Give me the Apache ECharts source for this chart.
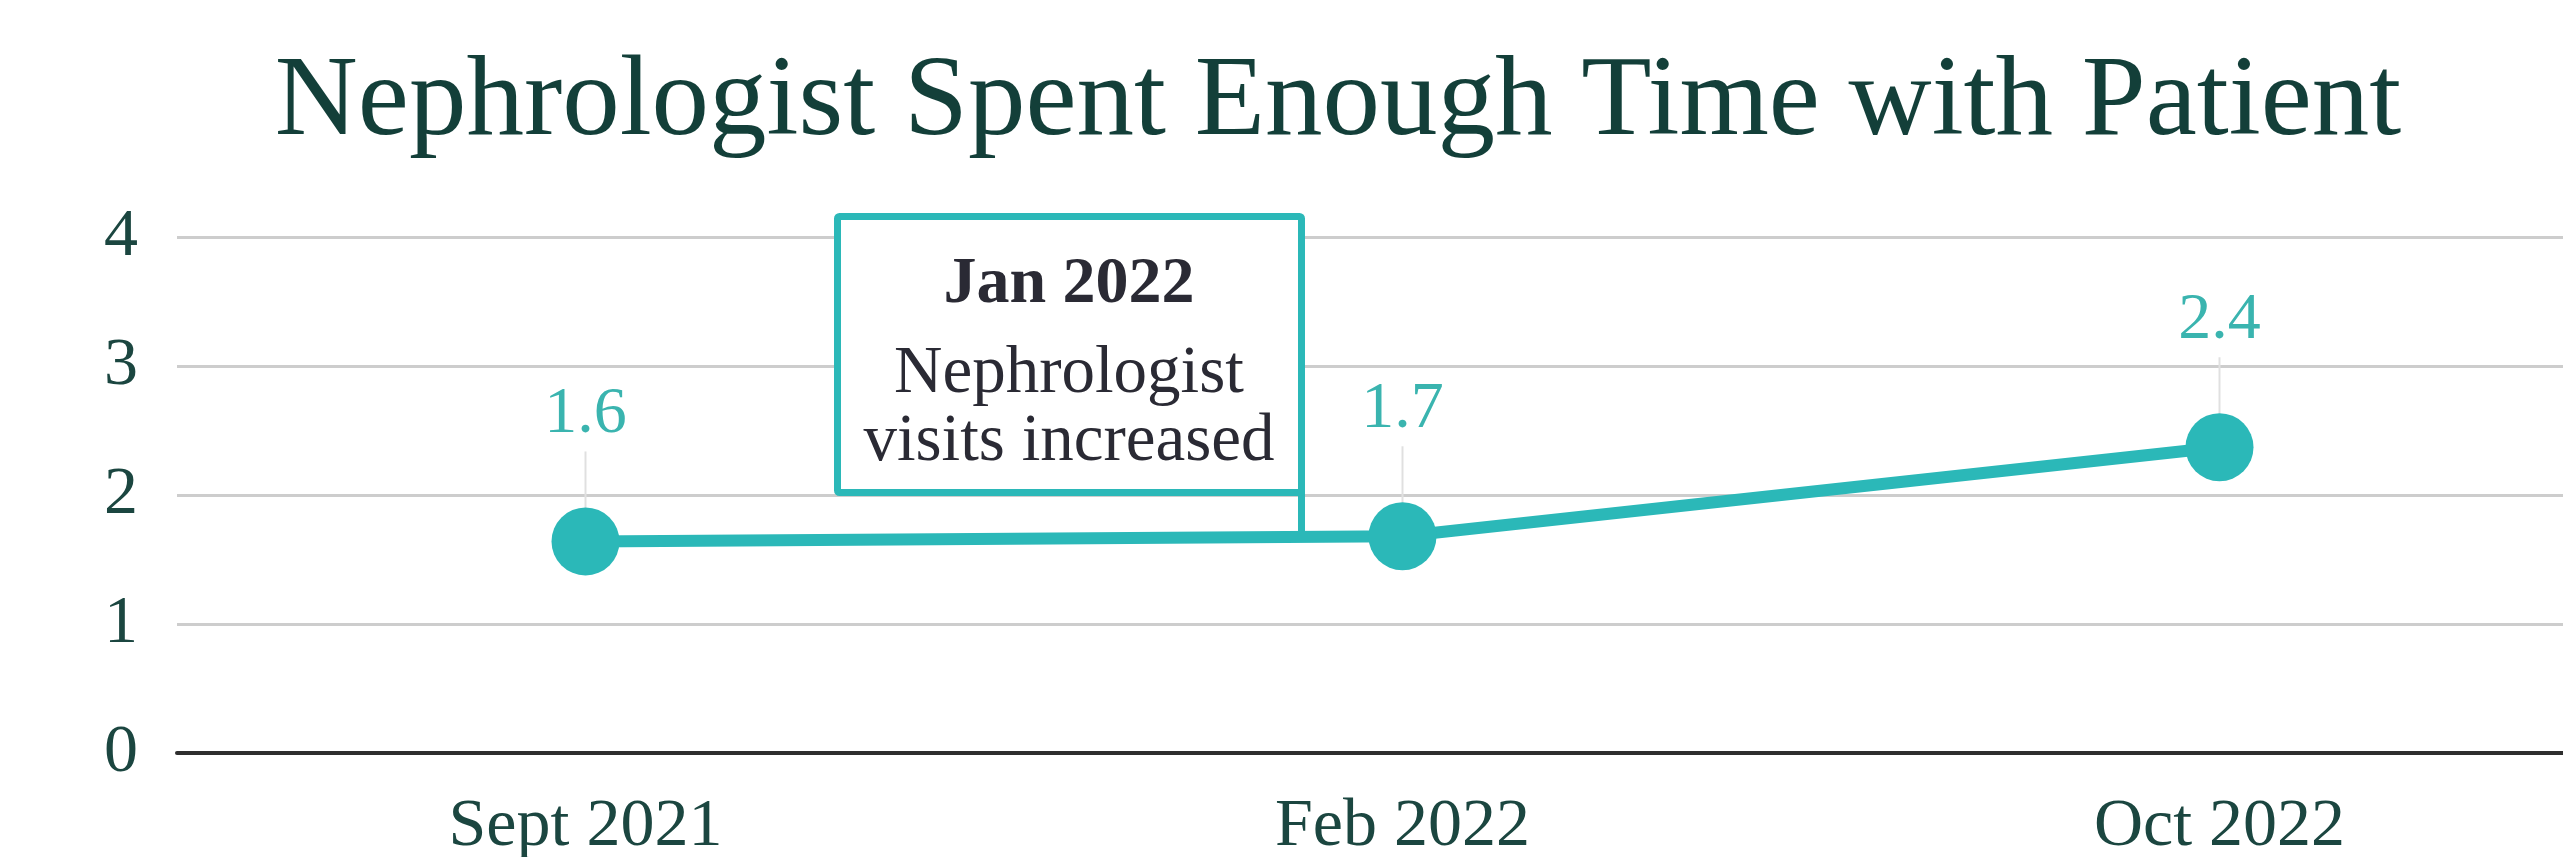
<!DOCTYPE html>
<html>
<head>
<meta charset="utf-8">
<script src="https://cdn.jsdelivr.net/npm/echarts@6/dist/echarts.min.js"></script>
<style>
html,body{margin:0;padding:0;background:#fff;}
#chart{width:2563px;height:857px;}
</style>
</head>
<body>
<div id="chart"></div>
<script>
const titleText = 'Nephrologist Spent Enough Time with Patient';
const categories = ['Sept 2021', 'Feb 2022', 'Oct 2022'];
const values = [1.64, 1.68, 2.37];
const yTicks = [0, 1, 2, 3, 4];
const noteTitle = 'Jan 2022';
const noteLines = ['Nephrologist', 'visits increased'];

const SERIF = '"Liberation Serif", "Times New Roman", serif';
const TEAL = '#2bb8b8';
const DARK = '#1b4640';

const chart = echarts.init(document.getElementById('chart'));
chart.setOption({
  backgroundColor: '#ffffff',
  animation: false,
  title: {
    text: titleText,
    left: 1333,
    top: 41,
    textAlign: 'center',
    textStyle: { fontFamily: SERIF, fontSize: 115, fontWeight: 'normal', color: '#133f39' }
  },
  grid: { left: 177, right: -65, top: 237, bottom: 104, containLabel: false, outerBoundsMode: 'none' },
  xAxis: {
    type: 'category',
    data: categories,
    boundaryGap: true,
    axisLine: { show: true, lineStyle: { color: '#2e2e2e', width: 4 } },
    axisTick: { show: false },
    axisLabel: { margin: 40, fontFamily: SERIF, fontSize: 68, color: DARK }
  },
  yAxis: {
    type: 'value',
    min: yTicks[0],
    max: yTicks[yTicks.length - 1],
    interval: 1,
    axisLine: { show: false },
    axisTick: { show: false },
    splitLine: { lineStyle: { color: '#cdcdcd', width: 3 } },
    axisLabel: { margin: 39, fontFamily: SERIF, fontSize: 68, color: DARK,
      formatter: v => yTicks.includes(v) ? String(v) : '' }
  },
  series: [
    {
      type: 'custom',
      z: 1,
      silent: true,
      data: values.map((v, i) => [i, v]),
      encode: { x: 0, y: 1 },
      renderItem: function (params, api) {
        const p = api.coord([api.value(0), api.value(1)]);
        return {
          type: 'line',
          shape: { x1: p[0], y1: p[1] - 33, x2: p[0], y2: p[1] - 90 },
          style: { stroke: '#e0e0e0', lineWidth: 2 }
        };
      }
    },
    {
      type: 'line',
      z: 3,
      data: values,
      symbol: 'circle',
      symbolSize: 68,
      itemStyle: { color: TEAL },
      lineStyle: { color: TEAL, width: 12 },
      label: {
        show: true,
        position: 'top',
        distance: 60,
        fontFamily: SERIF,
        fontSize: 66,
        color: '#3ab4af',
        formatter: p => p.value.toFixed(1)
      }
    }
  ],
  graphic: [
    {
      type: 'line',
      z: 10,
      shape: { x1: 1301.5, y1: 490, x2: 1301.5, y2: 534 },
      style: { stroke: TEAL, lineWidth: 7 }
    },
    {
      type: 'rect',
      z: 10,
      shape: { x: 837.5, y: 216.5, width: 464, height: 276, r: 2 },
      style: { fill: '#ffffff', stroke: TEAL, lineWidth: 7 }
    },
    {
      type: 'text',
      z: 11,
      x: 1069, y: 285,
      style: { text: noteTitle, textAlign: 'center', textVerticalAlign: 'middle',
        font: 'bold 66px "Liberation Serif", serif', fill: '#2a2a34' }
    },
    {
      type: 'text',
      z: 11,
      x: 1069, y: 374,
      style: { text: noteLines[0], textAlign: 'center', textVerticalAlign: 'middle',
        font: '67px "Liberation Serif", serif', fill: '#2a2a34' }
    },
    {
      type: 'text',
      z: 11,
      x: 1069, y: 442,
      style: { text: noteLines[1], textAlign: 'center', textVerticalAlign: 'middle',
        font: '67px "Liberation Serif", serif', fill: '#2a2a34' }
    }
  ]
});
</script>
</body>
</html>
